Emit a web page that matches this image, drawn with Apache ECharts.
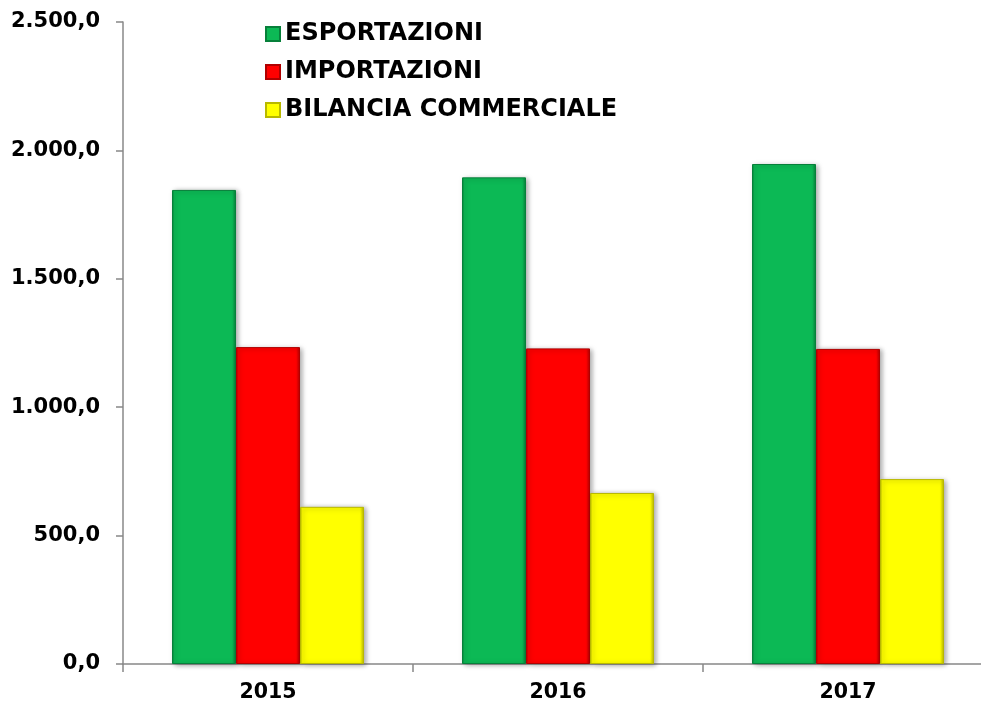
<!DOCTYPE html>
<html>
<head>
<meta charset="utf-8">
<script src="https://cdn.jsdelivr.net/npm/echarts@6/dist/echarts.min.js"></script>
<style>html,body{margin:0;padding:0;background:#fff}#c{width:981px;height:706px}</style>
</head>
<body>
<div id="c"></div>
<script>
var categories = ['2015', '2016', '2017'];
var esportazioni = [1846, 1895, 1947];
var importazioni = [1234, 1229, 1227];
var bilancia = [612, 666, 720];
var seriesNames = ['ESPORTAZIONI', 'IMPORTAZIONI', 'BILANCIA COMMERCIALE'];

function grad(base, dark) {
  return new echarts.graphic.LinearGradient(0, 0, 1, 0, [
    {offset: 0, color: dark},
    {offset: 0.04, color: base},
    {offset: 0.94, color: base},
    {offset: 1, color: dark}
  ]);
}
function fmt(v) {
  var s = Math.round(v).toString();
  s = s.replace(/\B(?=(\d{3})+(?!\d))/g, '.');
  return s + ',0';
}
var font = 'DejaVu Sans, sans-serif';
var chart = echarts.init(document.getElementById('c'));
function mk(name, data, base, dark) {
  return {
    name: name, type: 'bar', data: data, barWidth: 64, barGap: '0%',
    itemStyle: {
      color: grad(base, dark),
      borderColor: dark, borderWidth: 1,
      shadowBlur: 5, shadowColor: 'rgba(0,0,0,0.35)', shadowOffsetX: 2, shadowOffsetY: 1
    }
  };
}
chart.setOption({
  animation: false,
  textStyle: {fontFamily: font},
  grid: {left: 123, width: 870, top: 22, bottom: 42, containLabel: false, outerBoundsMode: 'none'},
  legend: {
    orient: 'vertical', left: 260, top: 17, itemGap: 14, itemWidth: 14, itemHeight: 14,
    icon: 'rect',
    textStyle: {fontFamily: font, fontWeight: 'bold', fontSize: 24, color: '#000'},
    data: seriesNames
  },
  xAxis: {
    type: 'category', data: categories,
    axisLine: {lineStyle: {color: '#888', width: 1.5}},
    axisTick: {show: true, length: 8, lineStyle: {color: '#888', width: 1.5}},
    axisLabel: {fontFamily: font, fontWeight: 'bold', fontSize: 20.5, color: '#000', margin: 18}
  },
  yAxis: {
    type: 'value', min: 0, max: 2500, interval: 500,
    axisLine: {show: true, lineStyle: {color: '#888', width: 1.5}},
    axisTick: {show: true, length: 7, lineStyle: {color: '#888', width: 1.5}},
    splitLine: {show: false},
    axisLabel: {fontFamily: font, fontWeight: 'bold', fontSize: 21, color: '#000', margin: 23, formatter: fmt}
  },
  series: [
    mk(seriesNames[0], esportazioni, '#0cb955', '#07803a'),
    mk(seriesNames[1], importazioni, '#ff0000', '#b00000'),
    mk(seriesNames[2], bilancia, '#ffff00', '#b8b800')
  ]
});
</script>
</body>
</html>
